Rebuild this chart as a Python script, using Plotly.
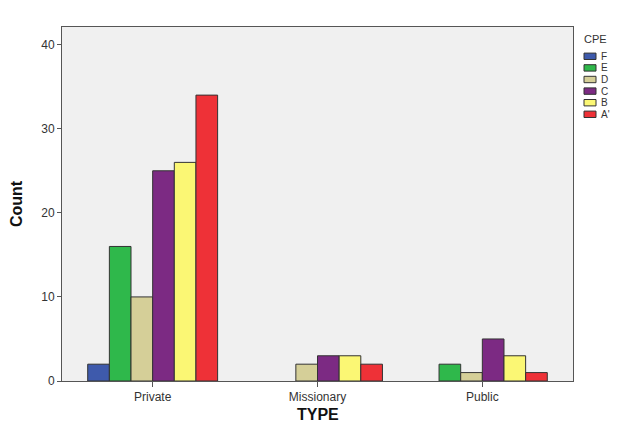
import plotly.graph_objects as go

categories = ["Private", "Missionary", "Public"]
series_names = ["F", "E", "D", "C", "B", "A'"]
series_colors = ["#3E5AAC", "#2FB84B", "#D5CF98", "#7C2A83", "#FBF774", "#EE3137"]
F_vals = [2, 0, 0]
E_vals = [16, 0, 2]
D_vals = [10, 2, 1]
C_vals = [25, 3, 5]
B_vals = [26, 3, 3]
A_vals = [34, 2, 1]
series_values = [F_vals, E_vals, D_vals, C_vals, B_vals, A_vals]
y_ticks = [0, 10, 20, 30, 40]

W, H = 629, 435
ML, MR, MT, MB = 62, 56, 27, 54
pw, ph = W - ML - MR, H - MT - MB

fig = go.Figure()
for name, color, vals in zip(series_names, series_colors, series_values):
    fig.add_trace(go.Bar(
        x=categories, y=[v if v > 0 else None for v in vals], name=name,
        marker=dict(color=color, line=dict(color="#333333", width=1)),
        showlegend=False,
    ))

font_main = "Liberation Sans, Arial, sans-serif"

fig.update_layout(
    width=W, height=H,
    margin=dict(l=ML, r=MR, t=MT, b=MB, pad=0),
    paper_bgcolor="white", plot_bgcolor="#F0F0F0",
    barmode="group", bargap=0.212, bargroupgap=0,
    font=dict(family=font_main, size=12, color="#333333"),
    xaxis=dict(
        range=[-0.55, 2.55], showgrid=False, zeroline=False,
        showline=True, linecolor="#555555", linewidth=1, mirror=True,
        ticks="outside", ticklen=5, tickcolor="#555555",
        tickfont=dict(family=font_main, size=12, color="#333333"),
    ),
    yaxis=dict(
        range=[0, 42.1], showgrid=False, zeroline=False,
        showline=True, linecolor="#555555", linewidth=1, mirror=True,
        ticks="outside", ticklen=4, tickcolor="#555555",
        tickvals=y_ticks, ticktext=[str(t) for t in y_ticks],
        tickfont=dict(family=font_main, size=12, color="#333333"),
    ),
)

annotations = [
    dict(text="<b>Count</b>", xref="paper", yref="paper", x=0, y=0.5,
         xanchor="center", yanchor="middle", xshift=-46, textangle=-90,
         showarrow=False,
         font=dict(family="Liberation Sans Narrow, Arial Narrow, Liberation Sans", size=16, color="#111111")),
    dict(text="<b>TYPE</b>", xref="paper", yref="paper", x=0.5, y=0,
         xanchor="center", yanchor="middle", yshift=-(414 - (H - MB)),
         showarrow=False,
         font=dict(family=font_main, size=16, color="#111111")),
    dict(text="CPE", xref="paper", yref="paper", x=1, y=1,
         xanchor="left", yanchor="middle", xshift=582 - (W - MR), yshift=-(39 - MT),
         showarrow=False,
         font=dict(family=font_main, size=11, color="#333333")),
]

# manual compact legend, built from the series lists
shapes = []
leg_x0, leg_y0, leg_step = 584, 56.3, 11.6
for i, (name, color) in enumerate(zip(series_names, series_colors)):
    cy = leg_y0 + i * leg_step
    shapes.append(dict(
        type="rect", xref="paper", yref="paper",
        x0=(leg_x0 - ML) / pw, x1=(leg_x0 + 12 - ML) / pw,
        y0=1 - (cy - 3.2 - MT) / ph, y1=1 - (cy + 3.2 - MT) / ph,
        fillcolor=color, line=dict(color="#333333", width=1),
    ))
    annotations.append(dict(
        text=name, xref="paper", yref="paper",
        x=(leg_x0 + 15 - ML) / pw, y=1 - (cy - MT) / ph,
        xanchor="left", yanchor="middle", showarrow=False,
        font=dict(family=font_main, size=10, color="#333333"),
    ))

fig.update_layout(annotations=annotations, shapes=shapes)
fig.write_html(
    "out.html",
    config={"displayModeBar": False},
    post_script="document.body.style.margin='0';document.body.style.padding='0';",
)
